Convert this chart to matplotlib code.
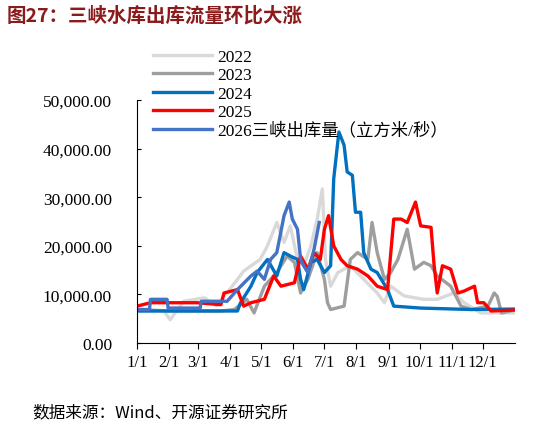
import matplotlib
matplotlib.use("Agg")
import matplotlib.pyplot as plt

d22 = [0,26,32,45,65,77,97,103,119,126,135,142,148,155,161,168,174,179,182,187,194,206,219,232,239,245,258,277,290,306,316,332,365]
v22 = [6600,6600,4800,8600,9300,7600,13100,14800,17200,20000,24800,20700,24100,17200,15900,20000,25500,31700,17200,11700,14500,15900,13100,10300,8300,11700,9700,9000,9000,10300,8300,6200,6200]
d23 = [0,32,81,94,106,113,123,135,145,152,158,165,174,181,184,187,200,206,213,223,227,232,239,245,252,261,268,277,284,290,303,313,323,339,345,348,352,365]
v23 = [6900,6600,6600,6900,9000,6200,11700,14500,17900,16600,10300,13100,18600,13100,8300,6900,7600,17200,18600,17200,24800,18600,13100,14500,17200,23400,15200,16600,15900,13800,11700,7600,6900,7600,10300,9600,6200,6800]
d24 = [0,97,100,110,116,126,135,142,148,155,158,161,168,174,181,187,190,195,200,203,208,211,216,219,226,232,242,248,274,323,365]
v24 = [6600,6600,8300,11700,14500,17200,13800,18600,17900,17200,13100,11000,16600,17200,14500,15900,33800,43400,40700,35200,34500,26900,26900,18600,15200,14500,11000,7600,7200,6900,7000]
d25 = [0,13,32,58,81,84,97,103,110,123,132,139,152,158,165,171,177,181,185,190,197,203,213,223,232,242,248,255,261,269,274,284,287,290,295,303,310,316,326,329,335,342,365]
v25 = [7600,8300,8300,8300,7900,10300,11000,7600,8300,9000,13800,11700,12400,17900,15200,18600,17200,23400,26200,20000,17200,15900,15200,13800,11700,11000,25500,25500,24800,29000,24100,23800,15900,10300,15900,15200,10300,10700,11700,8300,8300,6600,6800]
d26 = [0,12,13,29,30,61,62,87,97,110,116,123,129,135,142,147,150,155,158,161,165,171,176]
v26 = [6900,6900,9000,9000,7200,7200,8600,8600,11000,13800,14800,13100,17200,18600,26200,29000,25500,23400,17200,15900,14500,19300,24800]

month_days = [0,31,59,90,120,151,181,212,243,273,304,334]
month_labels = [f"{m}/1" for m in range(1, 13)]
yticks = [0,10000,20000,30000,40000,50000]

plt.rcParams['font.family'] = ['Liberation Serif', 'Noto Sans CJK SC', 'DejaVu Sans']
fig = plt.figure(figsize=(5.46,4.35), dpi=100)
ax = fig.add_axes([0.251, 0.209, 0.692, 0.559])
series = [(d22,v22,'#d9d9d9','2022'),(d23,v23,'#9e9e9e','2023'),(d24,v24,'#0070c0','2024'),
          (d25,v25,'#ff0000','2025'),(d26,v26,'#4472c4','2026三峡出库量（立方米/秒）')]
for d,v,c,l in series:
    ax.plot(d,v,color=c,lw=2.4,label=l)
ax.set_xlim(0,365)
ax.set_ylim(0,50000)
ax.set_xticks(month_days)
ax.set_xticklabels(month_labels, fontsize=12)
ax.set_yticks(yticks)
ax.set_yticklabels([f"{y:,.2f}" for y in yticks], fontsize=12.5)
for s in ['top','right']:
    ax.spines[s].set_visible(False)
ax.tick_params(axis='x', direction='out', length=4)
ax.tick_params(axis='y', direction='in', length=3, pad=18)
fig.legend(loc='upper left', bbox_to_anchor=(0.265,0.905), frameon=False, fontsize=12.5,
           handlelength=3.4, labelspacing=0.12, borderpad=0, handletextpad=0.3)
fig.text(0.012,0.963,"图27：三峡水库出库流量环比大涨", fontsize=14, fontweight='bold',
         color='#8b1a1a', family=['Noto Sans CJK SC'], va='center')
fig.text(0.06,0.05,"数据来源：Wind、开源证券研究所", fontsize=12,
         family=['Noto Sans CJK SC'], va='center')
fig.savefig("out.png", dpi=100)
